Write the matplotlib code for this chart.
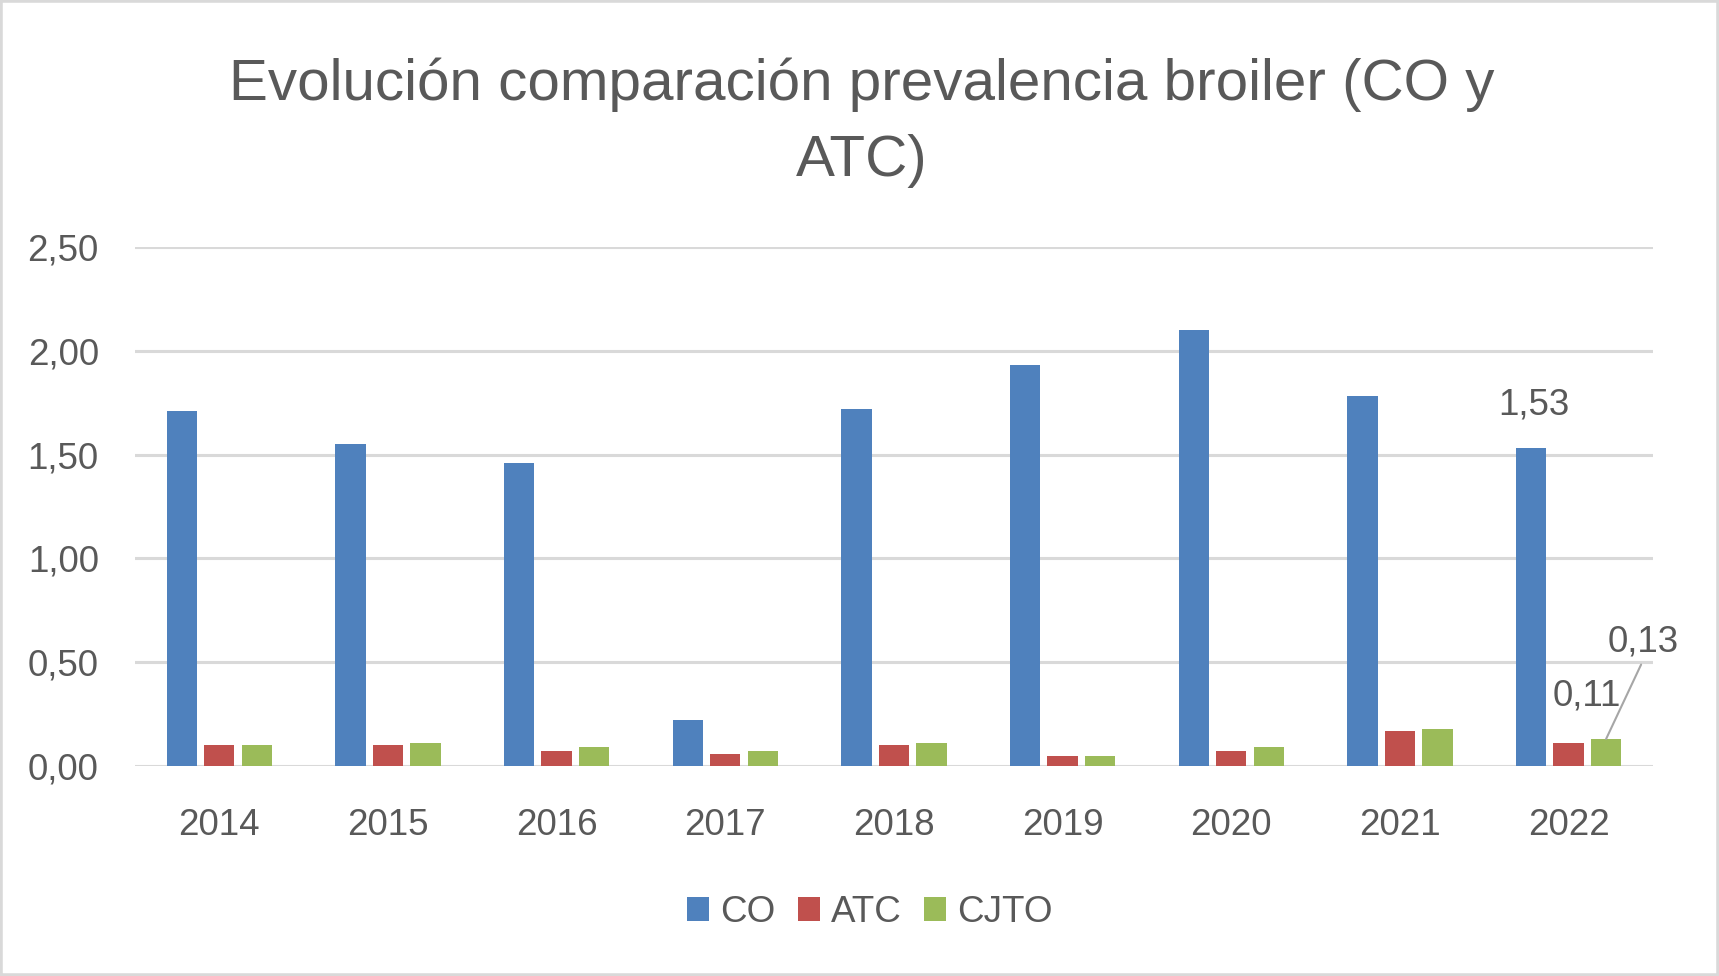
import numpy as np
import matplotlib
matplotlib.use("Agg")
import matplotlib.pyplot as plt
from matplotlib.patches import Rectangle

plt.rcParams["font.family"] = ["Liberation Sans", "DejaVu Sans"]

YEARS = ["2014", "2015", "2016", "2017", "2018", "2019", "2020", "2021", "2022"]
CO = [1.71, 1.55, 1.46, 0.22, 1.72, 1.93, 2.10, 1.78, 1.53]
ATC = [0.10, 0.10, 0.07, 0.06, 0.10, 0.05, 0.07, 0.17, 0.11]
CJTO = [0.10, 0.11, 0.09, 0.07, 0.11, 0.05, 0.09, 0.18, 0.13]
SERIES = ["CO", "ATC", "CJTO"]
COLORS = ["#4F81BD", "#C0504D", "#9BBB59"]

TXT = "#595959"
GRID = "#D9D9D9"

fig = plt.figure(figsize=(17.19, 9.76), dpi=100)
ax = fig.add_axes([0.0785, 0.2152, 0.8831, 0.5317])

x = np.arange(len(YEARS))
w = 0.18
step = 0.222
for i, (vals, col, name) in enumerate(zip([CO, ATC, CJTO], COLORS, SERIES)):
    ax.bar(x + (i - 1) * step, vals, width=w, color=col, label=name, zorder=3)

ax.set_xlim(-0.5, len(YEARS) - 0.5)
ax.set_ylim(0, 2.5)
ax.set_yticks(np.arange(0, 2.51, 0.5))
ax.set_yticklabels([f"{v:.2f}".replace(".", ",") for v in np.arange(0, 2.51, 0.5)])
ax.set_xticks(x)
ax.set_xticklabels(YEARS)
ax.tick_params(axis="both", length=0, labelsize=26.5, colors=TXT)
ax.tick_params(axis="y", pad=26)
ax.tick_params(axis="x", pad=30)
ax.yaxis.grid(True, color=GRID, linewidth=2.2, zorder=0)
for s in ax.spines.values():
    s.set_visible(False)

# etiquetas solo en 2022
last = len(YEARS) - 1
fmt = lambda v: f"{v:.2f}".replace(".", ",")
ax.annotate(fmt(CO[last]), xy=(last - step, CO[last]), xytext=(2, 31),
            textcoords="offset points", ha="center", va="center",
            fontsize=26.5, color=TXT)
ax.annotate(fmt(ATC[last]), xy=(last, ATC[last]), xytext=(13, 34),
            textcoords="offset points", ha="center", va="center",
            fontsize=26.5, color=TXT)
ax.annotate(fmt(CJTO[last]), xy=(last + step, CJTO[last]), xytext=(27, 70),
            textcoords="offset points", ha="center", va="center",
            fontsize=26.5, color=TXT, annotation_clip=False,
            arrowprops=dict(arrowstyle="-", color="#A6A6A6", lw=1.5,
                            shrinkA=2, shrinkB=0, relpos=(0.5, 0)))

fig.text(0.5015, 0.913, "Evolución comparación prevalencia broiler (CO y",
         ha="center", va="center", fontsize=42, color=TXT)
fig.text(0.5015, 0.835, "ATC)", ha="center", va="center", fontsize=42, color=TXT)

leg = fig.legend(loc="center", bbox_to_anchor=(0.506, 0.065), ncol=3,
                 frameon=False, fontsize=26.5, handlelength=0.6, handleheight=0.6,
                 handletextpad=0.3, columnspacing=0.6)
for t in leg.get_texts():
    t.set_color(TXT)

fig.patches.append(Rectangle((0, 0), 1, 1, transform=fig.transFigure, fill=False,
                             edgecolor=GRID, linewidth=4))

fig.savefig("out.png", dpi=100)
